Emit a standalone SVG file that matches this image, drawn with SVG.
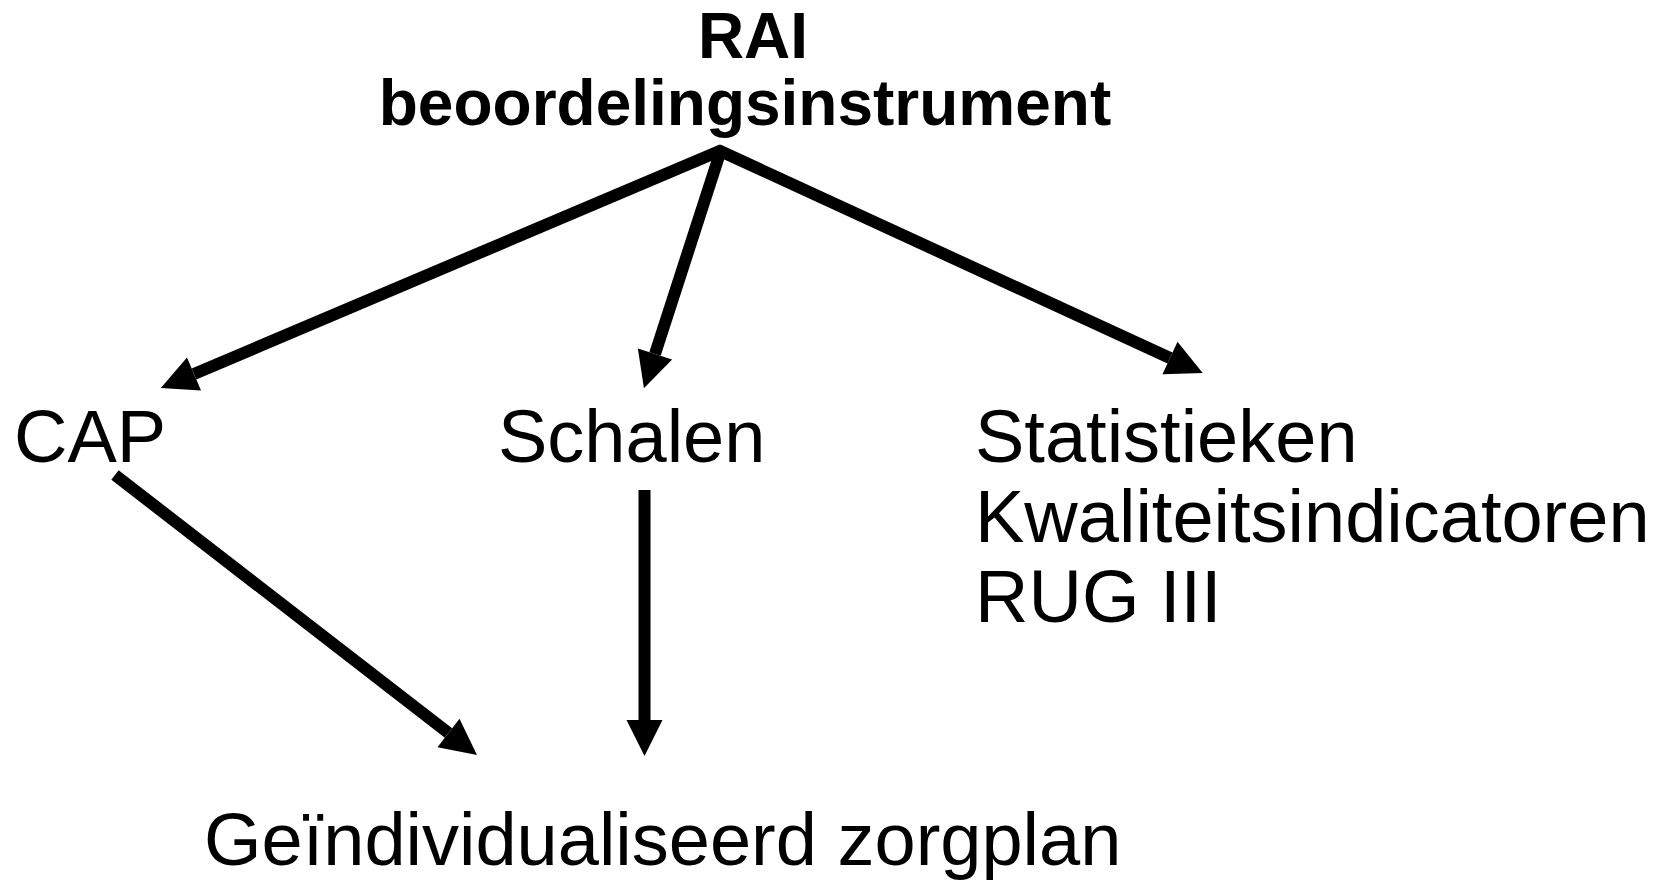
<svg xmlns="http://www.w3.org/2000/svg" width="1667" height="882" viewBox="0 0 1667 882">
<style>
.t{font-family:"Liberation Sans",Arial,sans-serif;font-size:74px;fill:#000}
.b{font-family:"Liberation Sans",Arial,sans-serif;font-size:64px;font-weight:bold;fill:#000}
.c{stroke:#000;stroke-width:12;fill:none;marker-end:url(#ah)}
</style>
<defs>
<marker id="ah" markerUnits="strokeWidth" markerWidth="3" markerHeight="3" refX="0" refY="1.5" orient="auto" overflow="visible">
<path d="M0,0 L3,1.5 L0,3 z" fill="#000"/>
</marker>
</defs>
<rect width="1667" height="882" fill="#fff"/>
<g id="connectors">
<line class="c" x1="722" y1="150" x2="194" y2="374"/>
<line class="c" x1="721" y1="150" x2="655" y2="354"/>
<line class="c" x1="718" y1="150" x2="1170" y2="358"/>
<line class="c" x1="115" y1="475" x2="448.5" y2="733"/>
<line class="c" x1="644.5" y1="490" x2="644.5" y2="720"/>
</g>
<g id="node-rai">
<text class="b" x="753" y="58" text-anchor="middle">RAI</text>
<text class="b" x="745" y="125" text-anchor="middle">beoordelingsinstrument</text>
</g>
<g id="node-cap"><text class="t" x="14" y="462">CAP</text></g>
<g id="node-schalen"><text class="t" x="498" y="462">Schalen</text></g>
<g id="node-stat">
<text class="t" x="975" y="462">Statistieken</text>
<text class="t" x="975" y="542">Kwaliteitsindicatoren</text>
<text class="t" x="975" y="622">RUG III</text>
</g>
<g id="node-zorgplan"><text class="t" x="204" y="865">Geïndividualiseerd zorgplan</text></g>
</svg>
